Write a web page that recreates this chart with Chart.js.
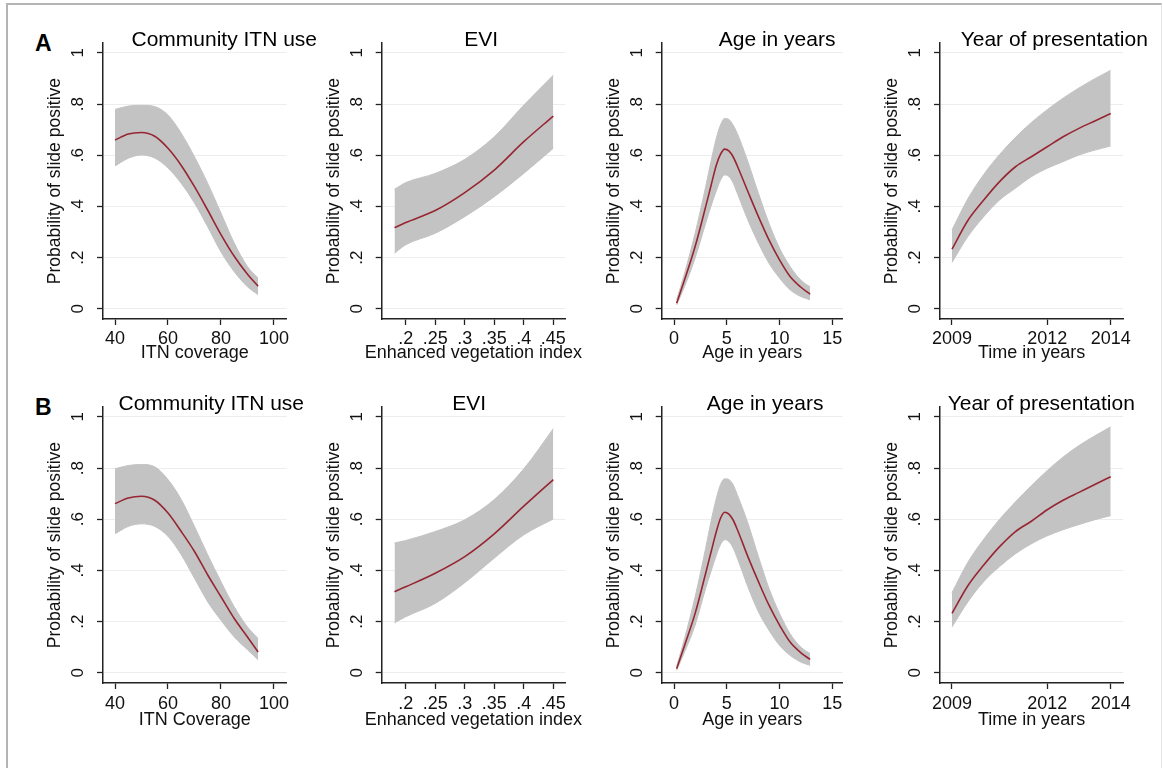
<!DOCTYPE html>
<html>
<head>
<meta charset="utf-8">
<script src="https://cdn.jsdelivr.net/npm/chart.js@4.4.0/dist/chart.umd.min.js"></script>
<style>
  html, body { margin: 0; padding: 0; background: #fff; overflow: hidden; }
  #page { position: relative; width: 1163px; height: 768px; overflow: hidden; background: #fff; }
  #frame { position: absolute; left: 6px; top: 3px; width: 1153px; height: 800px;
           border-top: 2px solid #b4b4b4; border-left: 2px solid #b4b4b4; border-right: 1px solid #e4e4e4; }
  canvas { position: absolute; }
  .tag { position: absolute; font: bold 23px "Liberation Sans", Arial, sans-serif; line-height: 23px; color: #000; }
</style>
</head>
<body>
<div id="page">
  <div id="frame"></div>
  <div class="tag" style="left:35px; top:32px">A</div>
  <div class="tag" style="left:35px; top:396px">B</div>
</div>
<script>
// shared y axis
const yTicks = [0, 0.2, 0.4, 0.6, 0.8, 1];
const yTickLabels = ["0", ".2", ".4", ".6", ".8", "1"];
const yRange = [-0.04, 1.038];

// community ITN use
const itnTicks = [40, 60, 80, 100];
const itnTickLabels = ["40", "60", "80", "100"];
const itnRange = [35.47, 104.8];
const itnX = [40, 45, 50, 55, 60, 65, 70, 75, 80, 85, 90, 94];
const itnMeanA = [0.659, 0.683, 0.689, 0.674, 0.627, 0.56, 0.477, 0.385, 0.29, 0.205, 0.135, 0.088];
const itnHighA = [0.779, 0.792, 0.795, 0.79, 0.757, 0.686, 0.594, 0.49, 0.374, 0.257, 0.165, 0.12];
const itnLowA = [0.558, 0.588, 0.601, 0.589, 0.55, 0.49, 0.413, 0.32, 0.222, 0.145, 0.086, 0.055];
const itnMeanB = [0.661, 0.683, 0.69, 0.674, 0.624, 0.552, 0.474, 0.382, 0.297, 0.212, 0.14, 0.081];
const itnHighB = [0.797, 0.81, 0.814, 0.805, 0.755, 0.677, 0.572, 0.461, 0.356, 0.258, 0.179, 0.134];
const itnLowB = [0.543, 0.572, 0.582, 0.572, 0.533, 0.461, 0.369, 0.277, 0.205, 0.14, 0.09, 0.051];

// EVI
const eviTicks = [0.2, 0.25, 0.3, 0.35, 0.4, 0.45];
const eviTickLabels = [".2", ".25", ".3", ".35", ".4", ".45"];
const eviRange = [0.1593, 0.4698];
const eviX = [0.181, 0.2, 0.25, 0.3, 0.35, 0.4, 0.45];
const eviMeanA = [0.317, 0.337, 0.384, 0.454, 0.542, 0.653, 0.753];
const eviHighA = [0.467, 0.493, 0.529, 0.584, 0.672, 0.796, 0.913];
const eviLowA = [0.217, 0.25, 0.295, 0.36, 0.438, 0.529, 0.627];
const eviMeanB = [0.317, 0.336, 0.389, 0.454, 0.543, 0.651, 0.755];
const eviHighB = [0.507, 0.517, 0.552, 0.598, 0.677, 0.797, 0.954];
const eviLowB = [0.195, 0.219, 0.271, 0.352, 0.448, 0.539, 0.601];

// age
const ageTicks = [0, 5, 10, 15];
const ageTickLabels = ["0", "5", "10", "15"];
const ageRange = [-1.166, 15.986];
const ageX = [0.25, 1, 2, 3, 3.5, 4, 4.4, 4.8, 5.2, 5.6, 6, 7, 8, 9, 10, 11, 12, 12.9];
const ageMeanA = [0.022, 0.113, 0.243, 0.399, 0.48, 0.56, 0.603, 0.624, 0.617, 0.594, 0.558, 0.458, 0.36, 0.269, 0.191, 0.126, 0.085, 0.057];
const ageHighA = [0.035, 0.139, 0.295, 0.477, 0.575, 0.665, 0.718, 0.744, 0.74, 0.718, 0.685, 0.575, 0.451, 0.334, 0.237, 0.165, 0.113, 0.085];
const ageLowA = [0.015, 0.087, 0.198, 0.334, 0.4, 0.46, 0.502, 0.523, 0.517, 0.492, 0.451, 0.347, 0.256, 0.178, 0.12, 0.074, 0.048, 0.035];
const ageMeanB = [0.016, 0.107, 0.232, 0.389, 0.47, 0.55, 0.603, 0.627, 0.62, 0.597, 0.56, 0.454, 0.356, 0.264, 0.186, 0.12, 0.079, 0.052];
const ageHighB = [0.025, 0.134, 0.297, 0.487, 0.59, 0.68, 0.735, 0.758, 0.755, 0.735, 0.696, 0.585, 0.454, 0.33, 0.232, 0.153, 0.101, 0.075];
const ageLowB = [0.009, 0.081, 0.186, 0.33, 0.395, 0.458, 0.5, 0.52, 0.513, 0.488, 0.448, 0.336, 0.238, 0.166, 0.107, 0.068, 0.042, 0.029];

// year of presentation
const yearTicks = [2009, 2012, 2014];
const yearTickLabels = ["2009", "2012", "2014"];
const yearRange = [2008.622, 2014.397];
const yearX = [2009, 2009.5, 2010, 2010.5, 2011, 2011.5, 2012, 2012.5, 2013, 2013.5, 2014];
const yearMeanA = [0.233, 0.345, 0.425, 0.497, 0.555, 0.594, 0.633, 0.672, 0.705, 0.734, 0.763];
const yearHighA = [0.308, 0.43, 0.525, 0.603, 0.67, 0.728, 0.778, 0.823, 0.863, 0.899, 0.932];
const yearLowA = [0.181, 0.282, 0.36, 0.425, 0.471, 0.516, 0.549, 0.575, 0.601, 0.62, 0.636];
const yearMeanB = [0.232, 0.34, 0.421, 0.493, 0.552, 0.592, 0.637, 0.674, 0.705, 0.736, 0.766];
const yearHighB = [0.313, 0.432, 0.522, 0.6, 0.668, 0.731, 0.79, 0.843, 0.888, 0.926, 0.961];
const yearLowB = [0.179, 0.277, 0.356, 0.415, 0.465, 0.504, 0.535, 0.559, 0.579, 0.598, 0.614];

// page layout (pixels)
const plotLeft = [103, 381.7, 661.7, 940];
const plotRight = [286.7, 565, 842.7, 1123.3];
const titleMid = [[224, 481, 777, 1054], [211, 469, 765, 1041]];
const rowTop = [0, 364];
const xAxisH = [46, 48];
const xCaptionOffset = [34, 37];
const xTickPad = [3, 4];
const yAxisW = 56.5;

const FONT = "'Liberation Sans', Arial, sans-serif";
const bandGray = "#c3c3c3";
const lineRed = "#972633";
const gridGray = "#eceeee";
const axisBlack = "#222";

Chart.defaults.font.family = FONT;
Chart.defaults.color = "#111";

const panels = [
    { row: 0, col: 0, title: "Community ITN use", xTitle: "ITN coverage", x: itnX, mean: itnMeanA, high: itnHighA, low: itnLowA, ticks: itnTicks, labels: itnTickLabels, range: itnRange },
    { row: 0, col: 1, title: "EVI", xTitle: "Enhanced vegetation index", x: eviX, mean: eviMeanA, high: eviHighA, low: eviLowA, ticks: eviTicks, labels: eviTickLabels, range: eviRange },
    { row: 0, col: 2, title: "Age in years", xTitle: "Age in years", x: ageX, mean: ageMeanA, high: ageHighA, low: ageLowA, ticks: ageTicks, labels: ageTickLabels, range: ageRange },
    { row: 0, col: 3, title: "Year of presentation", xTitle: "Time in years", x: yearX, mean: yearMeanA, high: yearHighA, low: yearLowA, ticks: yearTicks, labels: yearTickLabels, range: yearRange },
    { row: 1, col: 0, title: "Community ITN use", xTitle: "ITN Coverage", x: itnX, mean: itnMeanB, high: itnHighB, low: itnLowB, ticks: itnTicks, labels: itnTickLabels, range: itnRange },
    { row: 1, col: 1, title: "EVI", xTitle: "Enhanced vegetation index", x: eviX, mean: eviMeanB, high: eviHighB, low: eviLowB, ticks: eviTicks, labels: eviTickLabels, range: eviRange },
    { row: 1, col: 2, title: "Age in years", xTitle: "Age in years", x: ageX, mean: ageMeanB, high: ageHighB, low: ageLowB, ticks: ageTicks, labels: ageTickLabels, range: ageRange },
    { row: 1, col: 3, title: "Year of presentation", xTitle: "Time in years", x: yearX, mean: yearMeanB, high: yearHighB, low: yearLowB, ticks: yearTicks, labels: yearTickLabels, range: yearRange },
];

// x axis caption, centred under the plot area; allowed to run wider than the axis
const xCaption = {
    id: "xCaption",
    afterDraw(chart, args, opts) {
        const { ctx, chartArea } = chart;
        ctx.save();
        ctx.font = opts.size + "px " + FONT;
        ctx.fillStyle = opts.color;
        ctx.textAlign = "center";
        ctx.textBaseline = "middle";
        ctx.fillText(opts.text, (chartArea.left + chartArea.right) / 2, chartArea.bottom + opts.offset);
        ctx.restore();
    },
};

function points(xs, ys) {
    return xs.map((x, i) => ({ x: x, y: ys[i] }));
}

function makePanel(p) {
    const page = document.getElementById("page");
    const scaleLeft = plotLeft[p.col] - yAxisW;
    const left = Math.floor(scaleLeft);
    const right = 2 * titleMid[p.row][p.col] - scaleLeft;
    const width = Math.round(right - left);
    const spacer = left + width - plotRight[p.col];
    const height = 319 + xAxisH[p.row];

    const canvas = document.createElement("canvas");
    canvas.width = width;
    canvas.height = height;
    canvas.style.left = left + "px";
    canvas.style.top = rowTop[p.row] + "px";
    canvas.style.width = width + "px";
    canvas.style.height = height + "px";
    page.appendChild(canvas);

    new Chart(canvas, {
        type: "line",
        plugins: [xCaption],
        data: {
            datasets: [
                {
                    data: points(p.x, p.mean),
                    borderColor: lineRed,
                    borderWidth: 1.6,
                    pointRadius: 0,
                    fill: false,
                    cubicInterpolationMode: "monotone",
                },
                {
                    data: points(p.x, p.high),
                    borderColor: bandGray,
                    borderWidth: 1,
                    backgroundColor: bandGray,
                    pointRadius: 0,
                    fill: "+1",
                    cubicInterpolationMode: "monotone",
                },
                {
                    data: points(p.x, p.low),
                    borderColor: bandGray,
                    borderWidth: 1,
                    pointRadius: 0,
                    fill: false,
                    cubicInterpolationMode: "monotone",
                },
            ],
        },
        options: {
            responsive: false,
            animation: false,
            events: [],
            layout: {
                padding: { left: scaleLeft - left, right: 0, top: 0, bottom: 0 },
            },
            plugins: {
                legend: { display: false },
                tooltip: { enabled: false },
                title: {
                    display: true,
                    text: p.title,
                    color: "#000",
                    font: { size: 21, weight: "normal", lineHeight: 0.3 },
                    padding: { top: 36.85, bottom: 0 },
                },
                xCaption: {
                    text: p.xTitle,
                    size: 18,
                    color: "#111",
                    offset: xCaptionOffset[p.row],
                },
            },
            scales: {
                x: {
                    type: "linear",
                    min: p.range[0],
                    max: p.range[1],
                    afterBuildTicks: (s) => { s.ticks = p.ticks.map(v => ({ value: v })); },
                    afterFit: (s) => { s.height = xAxisH[p.row]; s.paddingLeft = 0; s.paddingRight = 0; },
                    grid: { drawOnChartArea: false, drawTicks: true, tickLength: 6, tickColor: axisBlack, tickWidth: 1.3 },
                    border: { display: true, color: axisBlack, width: 1.5 },
                    ticks: {
                        autoSkip: false,
                        minRotation: 0,
                        maxRotation: 0,
                        padding: xTickPad[p.row],
                        color: "#111",
                        font: { size: 18 },
                        callback: (v, i) => p.labels[i],
                    },
                    title: { display: false },
                },
                y: {
                    type: "linear",
                    min: yRange[0],
                    max: yRange[1],
                    afterBuildTicks: (s) => { s.ticks = yTicks.map(v => ({ value: v })); },
                    afterFit: (s) => { s.width = yAxisW; s.paddingTop = 0; s.paddingBottom = 0; },
                    grid: { color: gridGray, lineWidth: 1, drawTicks: true, tickLength: 6, tickColor: axisBlack, tickWidth: 1.3 },
                    border: { display: true, color: axisBlack, width: 1.5 },
                    ticks: {
                        minRotation: 90,
                        maxRotation: 90,
                        crossAlign: "center",
                        padding: 11.4,
                        color: "#111",
                        font: { size: 17 },
                        callback: (v, i) => yTickLabels[i],
                    },
                    title: {
                        display: true,
                        text: "Probability of slide positive",
                        color: "#111",
                        font: { size: 17.5, lineHeight: 1 },
                        padding: { top: 0, bottom: 0 },
                    },
                },
                // empty right-hand gutter so the panel title can sit off-centre like the original
                gutter: {
                    axis: "y",
                    type: "linear",
                    position: "right",
                    min: 0,
                    max: 1,
                    afterFit: (s) => { s.width = spacer; s.paddingTop = 0; s.paddingBottom = 0; },
                    grid: { display: false },
                    border: { display: false },
                    ticks: { display: false },
                    title: { display: false },
                },
            },
        },
    });
}

document.addEventListener("DOMContentLoaded", () => {
    panels.forEach(makePanel);
});
</script>
</body>
</html>
